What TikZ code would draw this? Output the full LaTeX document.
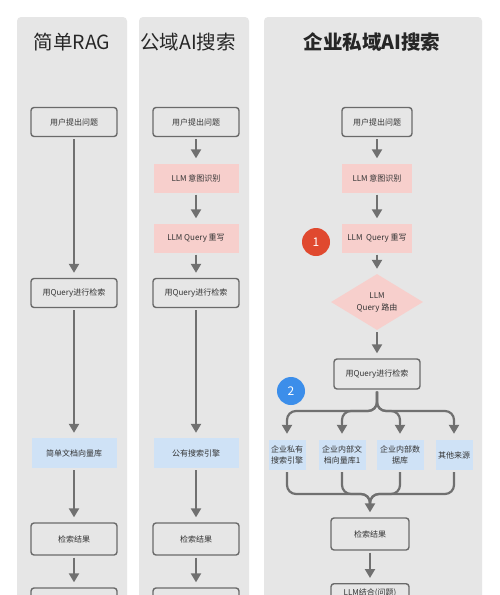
\documentclass[tikz,border=0pt]{standalone}
\usepackage{fontspec}
\setmainfont{Noto Sans CJK SC}
\usetikzlibrary{arrows.meta,shapes.geometric}
\definecolor{panelgray}{HTML}{E6E6E6}
\definecolor{boxline}{HTML}{6A6A6A}
\definecolor{arrgray}{HTML}{707070}
\definecolor{pinkfill}{HTML}{F7CFCC}
\definecolor{bluefill}{HTML}{CFE2F6}
\definecolor{txt}{HTML}{333333}
\definecolor{redc}{HTML}{E0492F}
\definecolor{bluec}{HTML}{3C8EEA}
\tikzset{
  panel/.style={fill=panelgray, draw=none, rounded corners=4pt},
  title/.style={font=\fontsize{19.5}{22}\selectfont, text=black!85},
  plainbox/.style={draw=boxline, line width=1.4pt, fill=panelgray, rounded corners=3pt,
     minimum height=29pt, inner sep=2pt, font=\fontsize{8}{9}\selectfont, text=txt},
  pinkbox/.style={fill=pinkfill, draw=none, minimum height=29pt, inner sep=2pt,
     font=\fontsize{8}{9}\selectfont, text=txt},
  bluebox/.style={fill=bluefill, draw=none, minimum height=30pt, inner sep=2pt,
     font=\fontsize{8}{10.5}\selectfont, text=txt, align=center},
  arr/.style={draw=arrgray, line width=2.2pt, -{Triangle[width=10pt,length=9pt]},
     shorten >=5pt, shorten <=2pt},
  tip/.style={draw=arrgray, line width=2.2pt, -{Triangle[width=10pt,length=9pt]}},
  ln/.style={draw=arrgray, line width=2.2pt, rounded corners=9pt},
  badge/.style={circle, minimum size=28pt, inner sep=0, text=white,
     font=\fontsize{12}{14}\selectfont}
}
\begin{document}
\begin{tikzpicture}[x=1pt,y=-1pt]
\useasboundingbox (0,0) rectangle (500,595);
\clip (0,0) rectangle (500,595);
\fill[white] (0,0) rectangle (500,595);
% panels
\fill[panel] (17,17) rectangle (127,640);
\fill[panel] (139,17) rectangle (249,640);
\fill[panel] (264,17) rectangle (482,640);
% titles
\node[title] (t1) at (72,42) {简单RAG};
\node[title] (t2) at (188,42) {公域AI搜索};
\node[title, font=\fontsize{19.5}{22}\selectfont\bfseries] (t3) at (372,42) {企业私域AI搜索};

% panel 1
\node[plainbox, minimum width=86pt] (u1) at (74,122) {用户提出问题};
\node[plainbox, minimum width=86pt] (q1) at (74,293) {用Query进行检索};
\node[bluebox, minimum width=85pt] (v1) at (74,453) {简单文档向量库};
\node[plainbox, minimum width=86pt, minimum height=32pt] (r1) at (74,539) {检索结果};
\node[plainbox, minimum width=86pt, minimum height=32pt] (b1) at (74,604) {};
\draw[arr] (u1) -- (q1);
\draw[arr] (q1) -- (v1);
\draw[arr] (v1) -- (r1);
\draw[arr] (r1) -- (b1);

% panel 2
\node[plainbox, minimum width=86pt] (u2) at (196,122) {用户提出问题};
\node[pinkbox, minimum width=85pt] (i2) at (196,178) {LLM 意图识别};
\node[pinkbox, minimum width=85pt] (w2) at (196,238) {LLM Query 重写};
\node[plainbox, minimum width=86pt] (q2) at (196,293) {用Query进行检索};
\node[bluebox, minimum width=85pt] (v2) at (196,453) {公有搜索引擎};
\node[plainbox, minimum width=86pt, minimum height=32pt] (r2) at (196,539) {检索结果};
\node[plainbox, minimum width=86pt, minimum height=32pt] (b2) at (196,604) {};
\draw[arr] (u2) -- (i2);
\draw[arr] (i2) -- (w2);
\draw[arr] (w2) -- (q2);
\draw[arr] (q2) -- (v2);
\draw[arr] (v2) -- (r2);
\draw[arr] (r2) -- (b2);

% panel 3
\node[plainbox, minimum width=70pt] (u3) at (377,122) {用户提出问题};
\node[pinkbox, minimum width=70pt] (i3) at (377,178) {LLM 意图识别};
\node[pinkbox, minimum width=70pt] (w3) at (377,238) {LLM\ \ Query 重写};
\node[diamond, fill=pinkfill, draw=none, minimum width=92pt, minimum height=56pt,
      aspect=1.65, inner sep=0pt, align=center, font=\fontsize{8}{12}\selectfont, text=txt]
      (d3) at (377,302) {LLM\\Query 路由};
\node[plainbox, minimum width=86pt, minimum height=30pt] (q3) at (377,374) {用Query进行检索};
\node[badge, fill=redc] (n1) at (316,242) {1};
\node[badge, fill=bluec] (n2) at (291,391) {2};
\node[bluebox, minimum width=37pt] (s1) at (287,455) {企业私有\\搜索引擎};
\node[bluebox, minimum width=47pt] (s2) at (342,455) {企业内部文\\档向量库1};
\node[bluebox, minimum width=47pt] (s3) at (400,455) {企业内部数\\据库};
\node[bluebox, minimum width=37pt] (s4) at (454,455) {其他来源};
\node[plainbox, minimum width=78pt, minimum height=32pt] (r3) at (370,534) {检索结果};
\node[plainbox, minimum width=78pt, minimum height=0pt, inner ysep=5pt, anchor=north] (b3) at (370,583) {LLM结合(问题)};
\coordinate (split) at (377,411);
\coordinate (merge) at (370,494);
\draw[arr] (u3) -- (i3);
\draw[arr] (i3) -- (w3);
\draw[arr] (w3) -- (d3);
\draw[arr] (d3) -- (q3);
% branch
\foreach \s in {s1,s2,s3,s4}{
  \draw[ln] ([yshift=-2pt]q3.south) -- (split) -| ([yshift=16pt]\s.north);
  \draw[tip] ([yshift=18pt]\s.north) -- ([yshift=6pt]\s.north);
}
% merge
\foreach \s in {s1,s2,s3,s4}{
  \draw[ln] ([yshift=-2pt]\s.south) |- (merge) -- ([yshift=12pt]r3.north);
}
\draw[tip] ([yshift=14pt]r3.north) -- ([yshift=5pt]r3.north);
\draw[arr] (r3) -- (b3);
\end{tikzpicture}
\end{document}
